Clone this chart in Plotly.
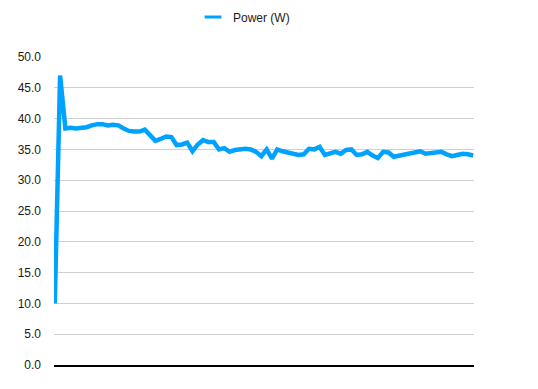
import plotly.graph_objects as go

series_name = "Power (W)"
power = [
    10.0, 47.0, 38.4, 38.5, 38.4, 38.5, 38.6, 38.9, 39.1, 39.1,
    38.9, 39.0, 38.9, 38.4, 38.0, 37.9, 37.9, 38.2, 37.2, 36.4,
    36.7, 37.1, 37.0, 35.7, 35.8, 36.1, 34.7, 35.8, 36.5, 36.2,
    36.2, 35.0, 35.2, 34.6, 34.9, 35.0, 35.1, 35.0, 34.6, 33.9,
    35.0, 33.5, 35.0, 34.7, 34.5, 34.3, 34.1, 34.2, 35.1, 35.0,
    35.4, 34.1, 34.4, 34.6, 34.3, 34.9, 35.0, 34.1, 34.2, 34.6,
    34.0, 33.6, 34.6, 34.5, 33.8, 34.0, 34.2, 34.4, 34.6, 34.7,
    34.3, 34.4, 34.6, 34.6, 34.2, 33.9, 34.1, 34.3, 34.2, 34.0,
]
samples = list(range(len(power)))
y_ticks = [0, 5, 10, 15, 20, 25, 30, 35, 40, 45, 50]
y_tick_labels = [f"{v:.1f}" for v in y_ticks]

BLUE = "#00a2ff"
FONT = "Liberation Sans, Arial, Helvetica, sans-serif"

fig = go.Figure()
fig.add_trace(go.Scatter(
    x=samples, y=power, mode="lines", name=series_name,
    line=dict(color=BLUE, width=4.5), showlegend=False,
))
# legend entry with a short line swatch
fig.add_trace(go.Scatter(
    x=[None], y=[None], mode="markers", name=series_name,
    marker=dict(symbol="line-ew-open", size=12, color=BLUE,
                line=dict(color=BLUE, width=3)),
    showlegend=True,
))

fig.update_layout(
    width=538, height=389,
    margin=dict(l=46, r=72, t=49, b=32, autoexpand=False),
    paper_bgcolor="white", plot_bgcolor="white",
    font=dict(family=FONT, size=12, color="#1a1a1a"),
    legend=dict(orientation="h", x=0.331, xanchor="left", y=1.13, yanchor="middle",
                font=dict(size=12), itemwidth=30, bgcolor="rgba(0,0,0,0)"),
    xaxis=dict(range=[-0.15, len(power) - 1 + 0.15], showgrid=False, zeroline=False,
               showticklabels=False, ticks="", showline=True, linecolor="#000000",
               linewidth=1.5),
    yaxis=dict(range=[0, 50], tickvals=y_ticks, ticktext=y_tick_labels,
               showgrid=True, gridcolor="#d0d0d0", gridwidth=1, zeroline=False,
               showline=False, ticks="", ticklabelstandoff=12,
               tickfont=dict(size=12, color="#1a1a1a")),
)

fig.write_html("out.html")
